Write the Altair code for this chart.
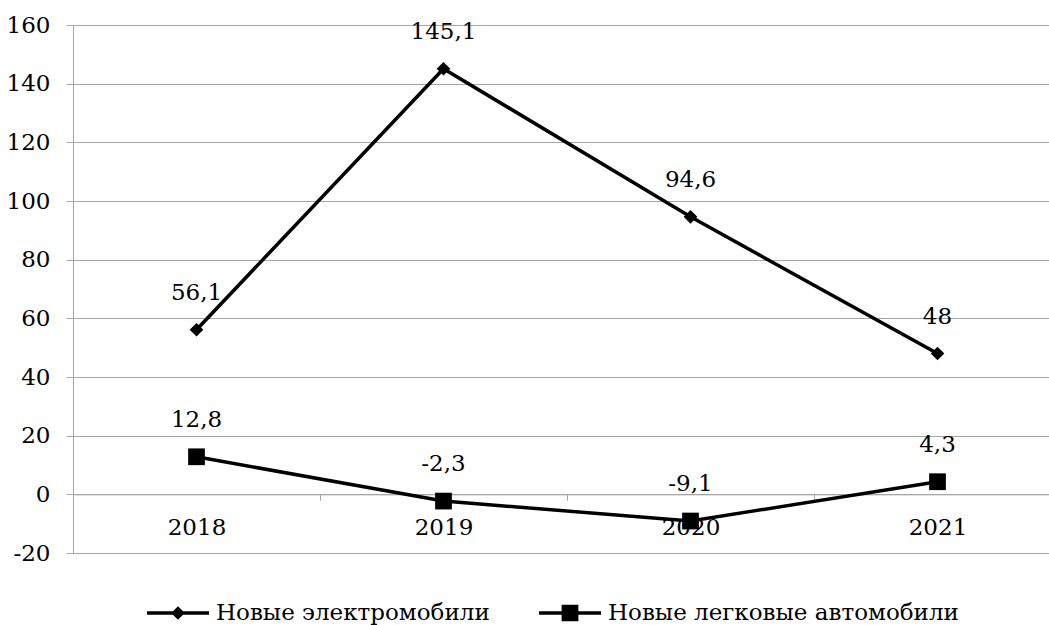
import altair as alt
import pandas as pd

# Year categories and the two series (growth, %)
years = ["2018", "2019", "2020", "2021"]
ev_name = "Новые электромобили"
car_name = "Новые легковые автомобили"
ev_values = [56.1, 145.1, 94.6, 48]
car_values = [12.8, -2.3, -9.1, 4.3]
y_ticks = [-20, 0, 20, 40, 60, 80, 100, 120, 140, 160]

rows = []
for name, vals in ((ev_name, ev_values), (car_name, car_values)):
    for yr, v in zip(years, vals):
        rows.append({"year": yr, "series": name, "value": v})
df = pd.DataFrame(rows)

FONT = "DejaVu Serif"
GRID = "#a6a6a6"
W, H = 976, 528
STEP = 247  # width of one year band
MARK_SIZE = 3844

# plot markers
diamond = "M0,-0.22L0.22,0L0,0.22L-0.22,0Z"
square = "M-0.27,-0.27H0.27V0.27H-0.27Z"
# legend symbols: the same markers on a short line segment
bar = "M-1,-0.056H1V0.056H-1Z"
diamond_key = bar + diamond
square_key = bar + square

x_enc = alt.X(
    "year:N",
    sort=years,
    scale=alt.Scale(range=[0, STEP * len(years)], paddingInner=0, paddingOuter=0),
    axis=alt.Axis(
        title=None,
        labelAngle=0,
        orient="bottom",
        offset=-H * 20 / 180,
        grid=False,
        domainColor=GRID,
        tickColor=GRID,
        tickBand="extent",
        tickSize=6,
        labelPadding=16,
        labelFont=FONT,
        labelFontSize=23,
        labelColor="black",
    ),
)
y_enc = alt.Y(
    "value:Q",
    scale=alt.Scale(domain=[-20, 160], nice=False, zero=False),
    axis=alt.Axis(
        title=None,
        values=y_ticks,
        grid=True,
        gridColor=GRID,
        domainColor=GRID,
        tickColor=GRID,
        tickSize=7,
        labelPadding=16,
        labelFont=FONT,
        labelFontSize=23,
        labelColor="black",
        labelExpr="toString(datum.value)",
    ),
)

base = alt.Chart(df).encode(x=x_enc, y=y_enc)

lines = base.mark_line(color="black", strokeWidth=3.5).encode(detail="series:N")

points = base.mark_point(filled=True, color="black", size=MARK_SIZE, opacity=1).encode(
    shape=alt.Shape(
        "series:N",
        scale=alt.Scale(domain=[ev_name, car_name], range=[diamond, square]),
        legend=None,
    )
)

# invisible layer that only carries the legend
legend_layer = base.mark_point(filled=True, color="black", size=MARK_SIZE, opacity=0).encode(
    shape=alt.Shape(
        "series:N",
        scale=alt.Scale(domain=[ev_name, car_name], range=[diamond_key, square_key]),
        legend=alt.Legend(
            title=None,
            orient="none",
            legendX=74,
            legendY=557,
            direction="horizontal",
            symbolSize=MARK_SIZE,
            symbolFillColor="black",
            symbolStrokeWidth=0,
            symbolOpacity=1,
            labelFont=FONT,
            labelFontSize=23,
            labelColor="black",
            labelLimit=0,
            labelOffset=7,
            columnPadding=49,
            padding=0,
        ),
    )
)

labels = (
    base.transform_calculate(label="replace(toString(datum.value), '.', ',')")
    .mark_text(font=FONT, fontSize=23, color="black", dy=-37, baseline="middle", align="center")
    .encode(text="label:N")
)

chart = (
    alt.layer(lines, points, legend_layer, labels)
    .resolve_scale(shape="independent")
    .properties(
        width=W,
        height=H,
        autosize=alt.AutoSizeParams(type="none"),
        padding={"left": 73, "top": 25, "right": 0, "bottom": 625 - 25 - H},
    )
    .configure_view(stroke=None)
    .configure_axis(gridWidth=1, domainWidth=1, tickWidth=1)
)

chart.save("out.html", embed_options={"renderer": "svg", "actions": False})
